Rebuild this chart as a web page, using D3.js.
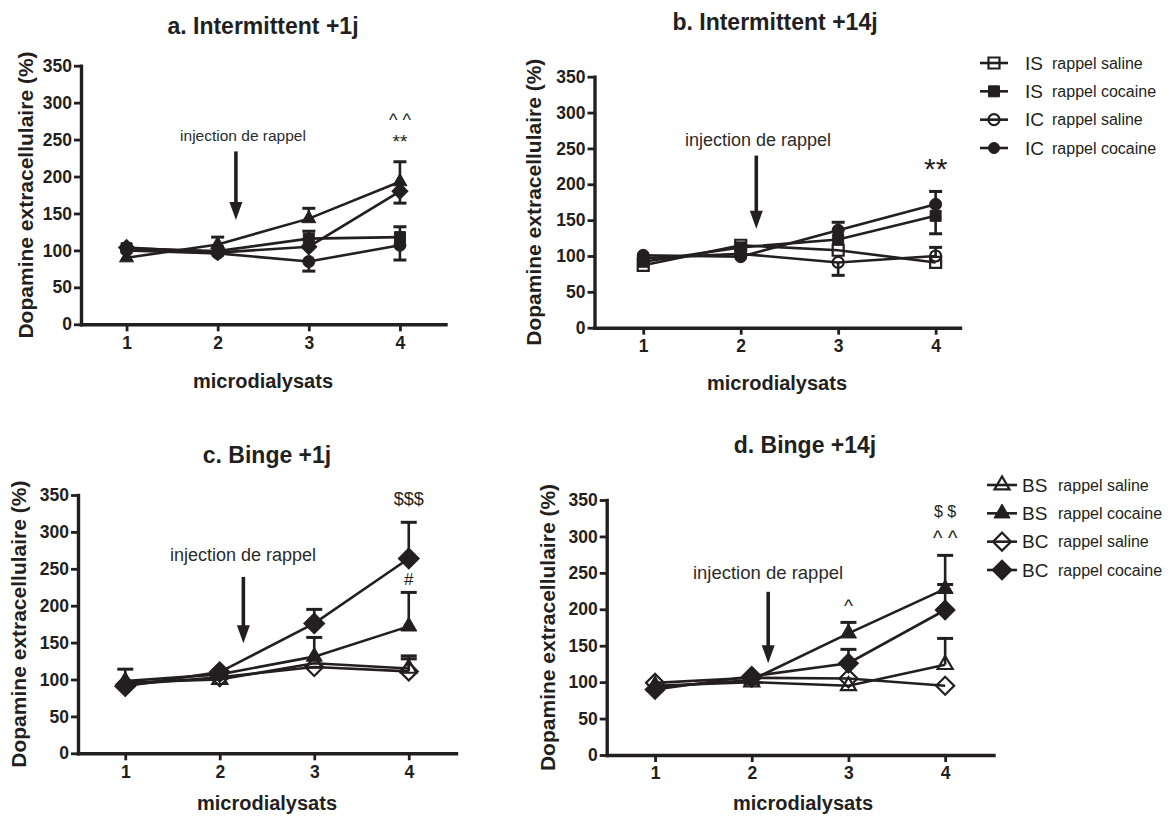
<!DOCTYPE html>
<html><head><meta charset="utf-8">
<script src="https://cdn.jsdelivr.net/npm/d3@7"></script>
<style>
body{margin:0;background:#fff}
text{font-family:"Liberation Sans",Arial,sans-serif}
</style>
</head><body>
<svg id="chart" width="1176" height="816"></svg>
<script>
// ---------- data ----------
const xValues = [1, 2, 3, 4];
const yTickValues = [0, 50, 100, 150, 200, 250, 300, 350];

// panel a : Intermittent +1j
const aTriangle = [90, 108, 143, 193];
const aTriangleHi = [null, 118, 157, 220];
const aDiamond = [104, 97, 105, 180];
const aDiamondLo = [null, null, null, 164];
const aSquare = [103, 99, 116, 118];
const aSquareHi = [null, null, 126, 132];
const aCircle = [100, 96, 85, 107];
const aCircleLo = [null, null, 72, 87];

// panel b : Intermittent +14j
const bISsaline = [87, 115, 108, 91];
const bIScocaine = [92, 112, 123, 156];
const bIScocaineLo = [null, null, null, 131];
const bICsaline = [97, 103, 91, 100];
const bICsalineLo = [null, null, 73, null];
const bICsalineHi = [null, null, null, 112];
const bICcocaine = [101, 99, 136, 172];
const bICcocaineHi = [null, null, 147, 190];

// panel c : Binge +1j
const cBSsaline = [96, 100, 122, 115];
const cBSsalineHi = [null, null, null, 132];
const cBScocaine = [98, 107, 131, 172];
const cBScocaineHi = [114, null, 157, 218];
const cBCsaline = [93, 103, 117, 111];
const cBCsalineHi = [null, null, null, 128];
const cBCcocaine = [91, 110, 176, 264];
const cBCcocaineHi = [null, null, 195, 313];

// panel d : Binge +14j
const dBSsaline = [95, 100, 95, 124];
const dBSsalineHi = [null, null, null, 160];
const dBScocaine = [93, 103, 167, 228];
const dBScocaineHi = [null, null, 182, 274];
const dBCsaline = [99, 106, 105, 95];
const dBCcocaine = [90, 108, 126, 199];
const dBCcocaineHi = [null, null, 145, 234];

// legends
const legendIntermittentGroup = ["IS", "IS", "IC", "IC"];
const legendBingeGroup = ["BS", "BS", "BC", "BC"];
const legendRappel = ["rappel saline", "rappel cocaine", "rappel saline", "rappel cocaine"];

// annotations  [text, x category, y value]
const aNotes = [["^ ^", 4, 268], ["**", 4, 238]];
const bNotes = [["**", 4, 207]];
const cNotes = [["$$$", 4, 336], ["#", 4, 228]];
const dNotes = [["^", 3, 196], ["$ $", 4, 327], ["^ ^", 4, 288]];

const titles = ["a. Intermittent +1j", "b. Intermittent +14j", "c. Binge +1j", "d. Binge +14j"];
const yTitle = "Dopamine extracellulaire (%)";
const xTitle = "microdialysats";
const injectionLabel = "injection de rappel";

// ---------- drawing ----------
const INK = "#231f20";
const svg = d3.select("#chart");

function markerPath(kind, px) {
  if (kind === "circle") return d3.symbol().type(d3.symbolCircle).size(Math.PI * px * px / 4)();
  if (kind === "square") return d3.symbol().type(d3.symbolSquare).size(px * px)();
  if (kind === "diamond") { const s = px / Math.SQRT2; return d3.symbol().type(d3.symbolSquare).size(s * s)(); }
  if (kind === "triangle") return d3.symbol().type(d3.symbolTriangle).size(px * px * Math.sqrt(3) / 4)();
}
function drawMarker(g, kind, filled, px, cx, cy) {
  g.append("path").attr("d", markerPath(kind, px))
    .attr("transform", `translate(${cx},${cy})` + (kind === "diamond" ? " rotate(45)" : ""))
    .attr("fill", filled ? INK : "none").attr("stroke", INK).attr("stroke-width", filled ? 1 : 2.2);
}

function drawPanel(cfg) {
  const g = svg.append("g");
  const x = d3.scaleLinear().domain(cfg.xDomain).range(cfg.xRange);
  const y = d3.scaleLinear().domain([0, 350]).range(cfg.yRange);

  // title
  g.append("text").attr("x", cfg.titleX).attr("y", cfg.titleY).attr("text-anchor", "middle")
    .attr("font-size", 23).attr("font-weight", "bold").attr("fill", INK).text(cfg.title);

  // axes
  const yAx = g.append("g").attr("transform", `translate(${cfg.xRange[0]},0)`)
    .call(d3.axisLeft(y).tickValues(yTickValues).tickSize(7).tickPadding(2).tickSizeOuter(0));
  const xAx = g.append("g").attr("transform", `translate(0,${y(0)})`)
    .call(d3.axisBottom(x).tickValues(xValues).tickFormat(d3.format("d")).tickSize(7).tickPadding(5).tickSizeOuter(0));
  [yAx, xAx].forEach(a => {
    a.select(".domain").attr("stroke", INK).attr("stroke-width", 3.4).attr("stroke-linecap", "square");
    a.selectAll(".tick line").attr("stroke", INK).attr("stroke-width", 2.8);
    a.selectAll(".tick text").attr("fill", INK).attr("font-size", 17.5).attr("font-weight", "bold")
      .style("font-family", "'Liberation Sans',Arial,sans-serif");
  });

  // axis titles
  const ymid = (cfg.yRange[0] + cfg.yRange[1]) / 2;
  g.append("text").attr("transform", `translate(${cfg.yTitleX},${ymid}) rotate(-90)`)
    .attr("text-anchor", "middle").attr("dominant-baseline", "central")
    .attr("font-size", 21).attr("font-weight", "bold").attr("fill", INK).text(yTitle);
  g.append("text").attr("x", cfg.xTitleX).attr("y", cfg.xTitleY).attr("text-anchor", "middle")
    .attr("dominant-baseline", "central")
    .attr("font-size", 20).attr("font-weight", "bold").attr("fill", INK).text(xTitle);

  // injection arrow
  const ax = x(cfg.arrow[0]), ay0 = y(cfg.arrow[1]), ay1 = y(cfg.arrow[2]);
  const headL = 18, headW = 13;
  g.append("line").attr("x1", ax).attr("x2", ax).attr("y1", ay0).attr("y2", ay1 - headL + 2)
    .attr("stroke", INK).attr("stroke-width", 3.6);
  g.append("path").attr("d", `M${ax - headW / 2},${ay1 - headL}L${ax + headW / 2},${ay1 - headL}L${ax},${ay1}Z`)
    .attr("fill", INK);
  g.append("text").attr("x", cfg.injX).attr("y", y(cfg.injV)).attr("text-anchor", "middle")
    .attr("dominant-baseline", "central").attr("font-size", cfg.injSize).attr("fill", "#2b2b2b").text(injectionLabel);

  // series lines
  const line = d3.line().x((d, i) => x(xValues[i])).y(d => y(d));
  cfg.series.forEach(s => {
    g.append("path").attr("d", line(s.v)).attr("fill", "none").attr("stroke", INK).attr("stroke-width", 2.6);
  });
  // error bars
  const cap = cfg.cap;
  cfg.series.forEach(s => {
    [s.hi, s.lo].forEach(arr => {
      if (!arr) return;
      arr.forEach((e, i) => {
        if (e == null) return;
        const cx = x(xValues[i]);
        g.append("line").attr("x1", cx).attr("x2", cx).attr("y1", y(s.v[i])).attr("y2", y(e))
          .attr("stroke", INK).attr("stroke-width", 2.6);
        g.append("line").attr("x1", cx - cap / 2).attr("x2", cx + cap / 2).attr("y1", y(e)).attr("y2", y(e))
          .attr("stroke", INK).attr("stroke-width", 3);
      });
    });
  });
  // markers
  cfg.series.forEach(s => {
    s.v.forEach((v, i) => drawMarker(g, s.kind, s.filled, s.size, x(xValues[i]), y(v)));
  });
  // annotations
  cfg.notes.forEach(n => {
    g.append("text").attr("x", x(n[1])).attr("y", y(n[2])).attr("text-anchor", "middle")
      .attr("font-size", cfg.noteSizes[n[0]] || 18).attr("fill", INK).text(n[0]);
  });
}

const panels = [
  { title: titles[0], titleX: 263, titleY: 34, xDomain: [0.5, 4.5], xRange: [81, 445.5], yRange: [324.3, 65.7],
    yTitleX: 25, xTitleX: 263, xTitleY: 381, arrow: [2.2, 234, 141], injX: 243, injV: 256, injSize: 15.5, cap: 13,
    series: [
      { v: aTriangle, hi: aTriangleHi, kind: "triangle", filled: true, size: 14 },
      { v: aDiamond, lo: aDiamondLo, kind: "diamond", filled: true, size: 16 },
      { v: aSquare, hi: aSquareHi, kind: "square", filled: true, size: 11 },
      { v: aCircle, lo: aCircleLo, kind: "circle", filled: true, size: 12 }
    ], notes: aNotes, noteSizes: { "^ ^": 18, "**": 19 } },
  { title: titles[1], titleX: 775, titleY: 30, xDomain: [0.5, 4.25], xRange: [594.5, 960], yRange: [327.7, 76.7],
    yTitleX: 533, xTitleX: 777, xTitleY: 383, arrow: [2.16, 240, 138], injX: 758, injV: 262, injSize: 18, cap: 13,
    series: [
      { v: bISsaline, kind: "square", filled: false, size: 11 },
      { v: bIScocaine, lo: bIScocaineLo, kind: "square", filled: true, size: 11 },
      { v: bICsaline, lo: bICsalineLo, hi: bICsalineHi, kind: "circle", filled: false, size: 11 },
      { v: bICcocaine, hi: bICcocaineHi, kind: "circle", filled: true, size: 12 }
    ], notes: bNotes, noteSizes: { "**": 30 } },
  { title: titles[2], titleX: 267, titleY: 463, xDomain: [0.5, 4.5], xRange: [78, 456], yRange: [753.3, 495],
    yTitleX: 18.5, xTitleX: 267, xTitleY: 803, arrow: [2.25, 239, 149], injX: 243, injV: 269, injSize: 18, cap: 16,
    series: [
      { v: cBSsaline, hi: cBSsalineHi, kind: "triangle", filled: false, size: 15 },
      { v: cBScocaine, hi: cBScocaineHi, kind: "triangle", filled: true, size: 16 },
      { v: cBCsaline, hi: cBCsalineHi, kind: "diamond", filled: false, size: 18 },
      { v: cBCcocaine, hi: cBCcocaineHi, kind: "diamond", filled: true, size: 21 }
    ], notes: cNotes, noteSizes: { "$$$": 18, "#": 17 } },
  { title: titles[3], titleX: 805, titleY: 453, xDomain: [0.5, 4.5], xRange: [606.7, 993.5], yRange: [755, 500],
    yTitleX: 547.5, xTitleX: 803, xTitleY: 803, arrow: [2.17, 224, 126], injX: 768, injV: 250, injSize: 18.5, cap: 16,
    series: [
      { v: dBSsaline, hi: dBSsalineHi, kind: "triangle", filled: false, size: 15 },
      { v: dBScocaine, hi: dBScocaineHi, kind: "triangle", filled: true, size: 16 },
      { v: dBCsaline, kind: "diamond", filled: false, size: 18 },
      { v: dBCcocaine, hi: dBCcocaineHi, kind: "diamond", filled: true, size: 20 }
    ], notes: dNotes, noteSizes: { "^": 19, "$ $": 16, "^ ^": 20 } }
];
panels.forEach(drawPanel);

// legends
function drawLegend(cfg) {
  const g = svg.append("g");
  const rowY = d3.scalePoint().domain(d3.range(cfg.groups.length)).range(cfg.yRange);
  cfg.groups.forEach((grp, i) => {
    const cy = rowY(i);
    g.append("line").attr("x1", cfg.lineX[0]).attr("x2", cfg.lineX[1]).attr("y1", cy).attr("y2", cy)
      .attr("stroke", INK).attr("stroke-width", 2.6);
    drawMarker(g, cfg.kinds[i], cfg.filled[i], cfg.sizes[i], (cfg.lineX[0] + cfg.lineX[1]) / 2, cy);
    g.append("text").attr("x", cfg.labelX).attr("y", cy + 6.8).attr("font-size", 19).attr("fill", INK).text(grp);
    g.append("text").attr("x", cfg.subX).attr("y", cy + 5.5).attr("font-size", 16).attr("fill", INK).text(legendRappel[i]);
  });
}
drawLegend({ groups: legendIntermittentGroup, yRange: [63, 148], lineX: [980, 1008], labelX: 1025, subX: 1052,
  kinds: ["square", "square", "circle", "circle"], filled: [false, true, false, true], sizes: [11, 11, 11, 11] });
drawLegend({ groups: legendBingeGroup, yRange: [485, 570], lineX: [987, 1017], labelX: 1022, subX: 1058,
  kinds: ["triangle", "triangle", "diamond", "diamond"], filled: [false, true, false, true], sizes: [15, 16, 18, 20] });
</script>
</body></html>
